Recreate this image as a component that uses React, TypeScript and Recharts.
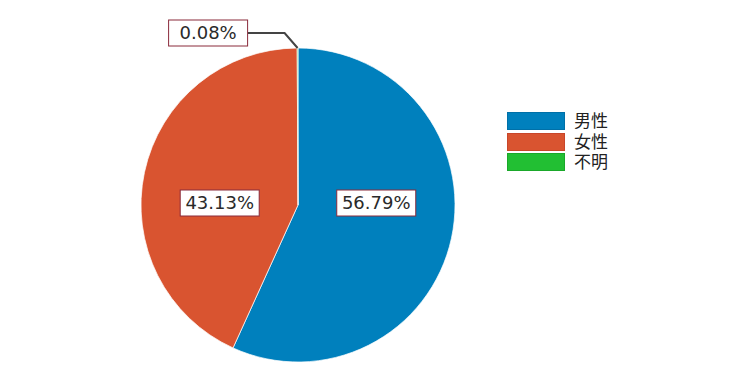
import React from "react";
import { PieChart, Pie, Cell } from "recharts";

const categories = ["男性", "女性", "不明"];
const shares = [56.79, 43.13, 0.08];
const colors = ["#0080bd", "#d95430", "#22bf33"];
const borders = ["#0070a8", "#c8462a", "#1aa82a"];

const data = categories.map((name, i) => ({ name, value: shares[i] }));

const FONT = "'DejaVu Sans', 'Noto Sans CJK JP', sans-serif";
const RAD = Math.PI / 180;

const charW = (ch: string) => (ch === "." ? 0.318 : ch === "%" ? 0.95 : 0.636);
const textWidth = (s: string, size: number) =>
  s.split("").reduce((a, c) => a + charW(c), 0) * size;

const renderLabel = (props: any) => {
  const { cx, cy, midAngle, outerRadius, value, percent } = props;
  const text = `${Number(value).toFixed(2)}%`;
  const fs = 18;
  const w = Math.max(textWidth(text, fs) + 10, 79);
  const h = 26;
  const cos = Math.cos(-midAngle * RAD);
  const sin = Math.sin(-midAngle * RAD);
  if (percent < 0.01) {
    const x0 = cx + outerRadius * cos;
    const y0 = cy + outerRadius * sin;
    const x1 = x0 - 13;
    const y1 = y0 - 15;
    const x2 = x1 - 37;
    return (
      <g>
        <polyline points={`${x0},${y0} ${x1},${y1} ${x2},${y1}`} fill="none" stroke="#444" strokeWidth={2} />
        <rect x={x2 - w} y={y1 - h / 2} width={w} height={h} fill="#fff" stroke="#8a2a3a" strokeWidth={1} />
        <text x={x2 - w / 2} y={y1 + 1} textAnchor="middle" dominantBaseline="middle" fontFamily={FONT} fontSize={fs} fill="#2a2a2a">
          {text}
        </text>
      </g>
    );
  }
  const x = cx + outerRadius * 0.51 * cos;
  const y = cy - 2;
  return (
    <g>
      <rect x={x - w / 2} y={y - h / 2} width={w} height={h} fill="#fff" stroke="#8a2a3a" strokeWidth={1} />
      <text x={x} y={y + 1} textAnchor="middle" dominantBaseline="middle" fontFamily={FONT} fontSize={fs} fill="#2a2a2a">
        {text}
      </text>
    </g>
  );
};

export default function App() {
  return (
    <div style={{ position: "absolute", left: 0, top: 0, width: 750, height: 384, background: "#fff" }}>
      <PieChart width={750} height={384} margin={{ top: 0, right: 0, bottom: 0, left: 0 }}>
        <Pie
          data={data}
          dataKey="value"
          nameKey="name"
          cx={298}
          cy={205}
          outerRadius={157}
          startAngle={90}
          endAngle={-270}
          stroke="#fff"
          strokeWidth={0.7}
          label={renderLabel}
          labelLine={false}
          isAnimationActive={false}
        >
          {data.map((d, i) => (
            <Cell key={d.name} fill={colors[i]} />
          ))}
        </Pie>
      </PieChart>
      <div style={{ position: "absolute", left: 507, top: 111, fontFamily: FONT, fontSize: 17, color: "#222" }}>
        {categories.map((c, i) => (
          <div key={c} style={{ display: "flex", alignItems: "center", height: 20.5 }}>
            <div style={{ width: 56, height: 16, background: colors[i], border: `1px solid ${borders[i]}`, marginRight: 9 }} />
            <span style={{ lineHeight: "20px" }}>{c}</span>
          </div>
        ))}
      </div>
    </div>
  );
}
